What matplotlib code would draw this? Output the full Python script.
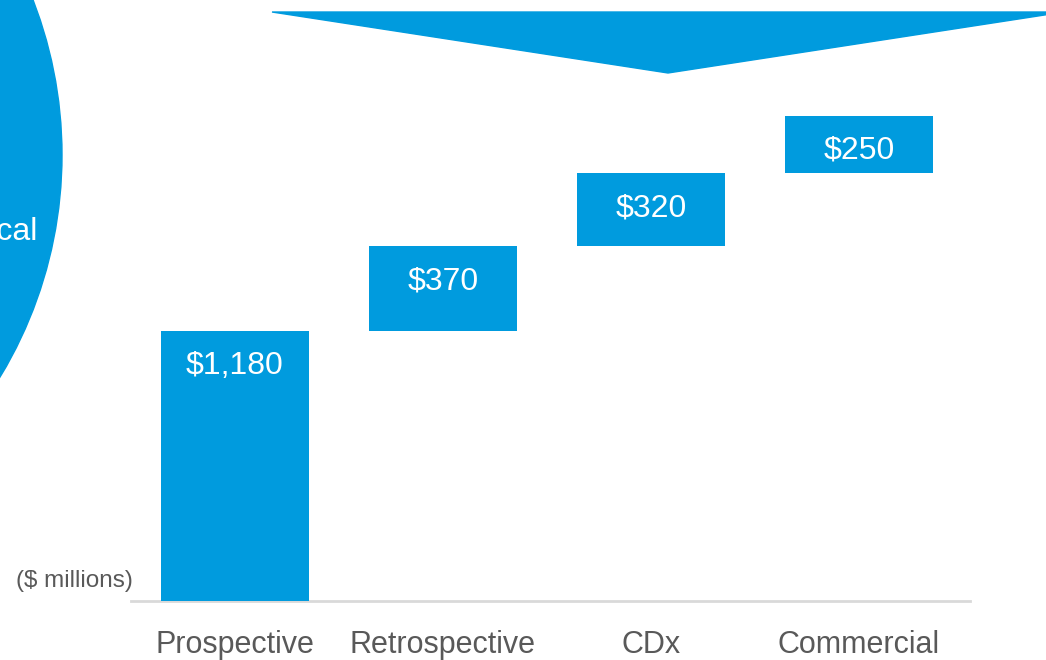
import matplotlib.pyplot as plt
from matplotlib.patches import Circle, Polygon
from matplotlib.transforms import offset_copy

plt.rcParams['font.family'] = ['Liberation Sans', 'DejaVu Sans']

categories = ['Prospective', 'Retrospective', 'CDx', 'Commercial']
values = [1180, 370, 320, 250]
labels = ['$1,180', '$370', '$320', '$250']

blue = '#009bde'
grey_text = '#595959'

W, H = 1046, 660
fig = plt.figure(figsize=(W / 100, H / 100), dpi=100)

# decorative shapes in pixel space, behind the chart
overlay = fig.add_axes([0, 0, 1, 1], zorder=0)
overlay.set_xlim(0, W)
overlay.set_ylim(H, 0)
overlay.axis('off')
overlay.add_patch(Circle((-367, 155), 429, color=blue))
overlay.add_patch(Polygon([(272, 12), (1064, 12), (668, 73)], closed=True,
                          color=blue))
overlay.text(38, 232, 'Clinical', ha='right', va='center', color='white',
             fontsize=23)

# axes: baseline at y=601px, x span 131..970px
ax = fig.add_axes([131 / W, (H - 601) / H, (970 - 131) / W, 601 / H],
                  zorder=1)
ax.patch.set_alpha(0)
ax.set_xlim(-0.5, 3.534)
ax.set_ylim(0, 601 / 0.22881)

# waterfall: each bar starts where the previous one ended
bottoms = []
run = 0
for v in values:
    bottoms.append(run)
    run += v

x = range(len(categories))
ax.bar(x, values, bottom=bottoms, width=0.711, color=blue, zorder=2)

for i, (v, b, lab) in enumerate(zip(values, bottoms, labels)):
    tr = offset_copy(ax.transData, fig=fig, x=0, y=-35, units='dots')
    ax.text(i, b + v, lab, transform=tr, ha='center', va='center',
            color='white', fontsize=23, zorder=3)

for s in ax.spines.values():
    s.set_visible(False)
ax.axhline(0, color='#d9d9d9', linewidth=2, zorder=1, clip_on=False)
ax.set_yticks([])
ax.set_xticks(list(x))
ax.set_xticklabels(categories, fontsize=22, color=grey_text)
ax.tick_params(axis='x', length=0, pad=21)

fig.text(133 / W, (H - 581) / H, '($ millions)', ha='right', va='center',
         fontsize=17.5, color=grey_text)

fig.savefig('out.png', dpi=100)
